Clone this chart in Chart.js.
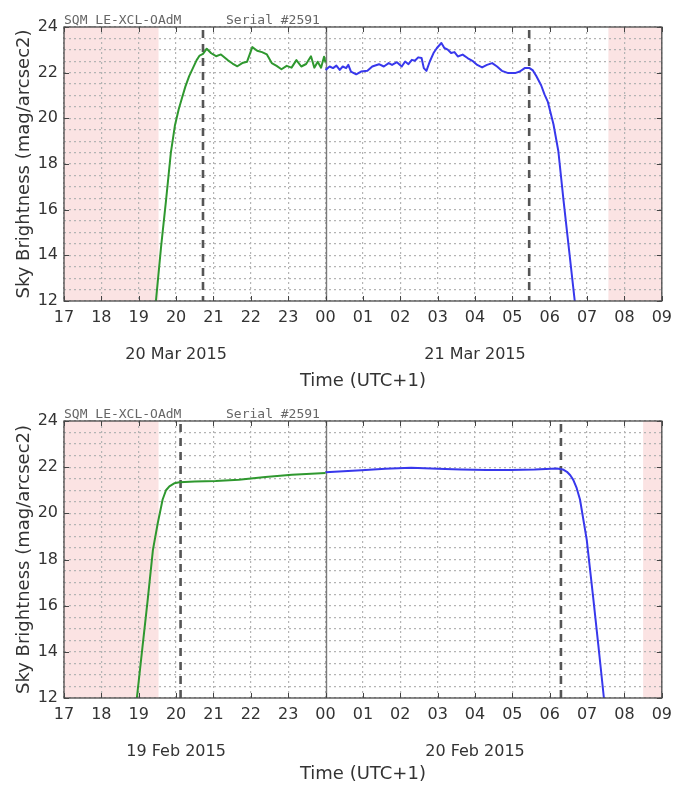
<!DOCTYPE html>
<html>
<head>
<meta charset="utf-8">
<script src="https://cdn.jsdelivr.net/npm/chart.js@4.4.1/dist/chart.umd.min.js"></script>
<style>
  html, body { margin: 0; padding: 0; background: #ffffff; }
  #wrap { width: 679px; height: 787px; position: relative; }
  canvas { display: block; }
</style>
</head>
<body>
<div id="wrap">
  <canvas id="marNight" width="679" height="394"></canvas>
  <canvas id="febNight" width="679" height="393"></canvas>
</div>
<script>
// Hours are counted from midnight of the first evening (24 = 00:00 next day)
const hourTicks = [17, 18, 19, 20, 21, 22, 23, 24, 25, 26, 27, 28, 29, 30, 31, 32, 33];
const hourLabels = ['17', '18', '19', '20', '21', '22', '23', '00', '01', '02', '03', '04', '05', '06', '07', '08', '09'];
const magTicks = [12, 14, 16, 18, 20, 22, 24];
const dateLabelHours = [20, 28];
const instrumentName = 'SQM_LE-XCL-OAdM';
const serialText = 'Serial #2591';

// 20/21 March 2015
const marDates = ['20 Mar 2015', '21 Mar 2015'];
const marEveningHours = [19.46, 19.6, 19.73, 19.86, 19.97, 20.07, 20.15, 20.25, 20.35, 20.45, 20.55, 20.63, 20.72, 20.82,
  20.94, 21.07, 21.2, 21.38, 21.51, 21.64, 21.77, 21.9, 22.04, 22.17, 22.3, 22.43, 22.56, 22.69, 22.82, 22.96,
  23.09, 23.22, 23.35, 23.48, 23.61, 23.7, 23.79, 23.88, 23.96, 24.0];
const marEveningMag = [12.0, 14.4, 16.4, 18.5, 19.7, 20.4, 20.85, 21.4, 21.85, 22.2, 22.55, 22.75, 22.82, 23.05,
  22.85, 22.72, 22.8, 22.55, 22.4, 22.28, 22.42, 22.48, 23.12, 22.96, 22.9, 22.8, 22.42, 22.3, 22.15, 22.3,
  22.22, 22.55, 22.27, 22.38, 22.72, 22.22, 22.48, 22.22, 22.7, 22.45];
const marMorningHours = [24.0, 24.11, 24.2, 24.29, 24.38, 24.46, 24.55, 24.61, 24.68, 24.82, 24.95, 25.12, 25.25,
  25.43, 25.56, 25.69, 25.78, 25.91, 26.04, 26.13, 26.22, 26.31, 26.39, 26.48, 26.57, 26.63, 26.7, 26.79, 26.89,
  26.98, 27.1, 27.18, 27.27, 27.36, 27.45, 27.54, 27.67, 27.8, 27.93, 28.06, 28.19, 28.32, 28.46, 28.59, 28.72,
  28.89, 29.07, 29.2, 29.33, 29.46, 29.55, 29.64, 29.77, 29.86, 29.95, 30.1, 30.23, 30.37, 30.52, 30.67];
const marMorningMag = [22.12, 22.27, 22.2, 22.31, 22.12, 22.27, 22.2, 22.34, 22.05, 21.93, 22.05, 22.08, 22.27,
  22.37, 22.27, 22.42, 22.34, 22.46, 22.27, 22.49, 22.37, 22.56, 22.52, 22.67, 22.64, 22.2, 22.08, 22.49, 22.86,
  23.08, 23.3, 23.08, 23.01, 22.86, 22.9, 22.71, 22.79, 22.64, 22.52, 22.34, 22.23, 22.34, 22.42, 22.27, 22.08,
  21.98, 21.98, 22.05, 22.2, 22.2, 22.1, 21.85, 21.45, 21.05, 20.72, 19.74, 18.57, 16.4, 14.2, 12.0];
const marDaylight = [[17, 19.53], [31.57, 33]];
const marTwilight = [20.72, 29.45];

// 19/20 February 2015
const febDates = ['19 Feb 2015', '20 Feb 2015'];
const febEveningHours = [18.95, 19.1, 19.24, 19.38, 19.51, 19.64, 19.73, 19.82, 19.95, 20.09, 20.5, 21.06, 21.68,
  22.39, 23.1, 24.0];
const febEveningMag = [12.0, 14.2, 16.25, 18.42, 19.58, 20.6, 21.0, 21.17, 21.3, 21.35, 21.38, 21.4, 21.45,
  21.57, 21.67, 21.75];
const febMorningHours = [24.0, 24.96, 25.6, 26.29, 27.0, 27.62, 28.3, 28.95, 29.6, 30.19, 30.35, 30.46, 30.55,
  30.63, 30.72, 30.81, 30.99, 31.17, 31.3, 31.45];
const febMorningMag = [21.78, 21.87, 21.93, 21.97, 21.93, 21.9, 21.88, 21.88, 21.9, 21.94, 21.9, 21.8, 21.65,
  21.45, 21.1, 20.6, 18.86, 16.25, 14.3, 12.0];
const febDaylight = [[17, 19.53], [32.5, 33]];
const febTwilight = [20.12, 30.3];

const GREEN = '#2f982f';
const BLUE = '#3838ec';
const TEXT = '#333333';

function toPoints(xs, ys) {
  return xs.map((x, i) => ({ x: x, y: ys[i] }));
}

// Background bands, twilight markers, frame, header and date captions
const nightPlugin = {
  id: 'nightDecor',
  beforeDraw(chart, args, opts) {
    const { ctx, chartArea: a, scales: { x } } = chart;
    ctx.save();
    ctx.fillStyle = '#fbe3e3';
    opts.daylight.forEach(([h0, h1]) => {
      const x0 = x.getPixelForValue(h0), x1 = x.getPixelForValue(h1);
      ctx.fillRect(x0, a.top, x1 - x0, a.bottom - a.top);
    });
    ctx.restore();
  },
  beforeDatasetsDraw(chart, args, opts) {
    const { ctx, chartArea: a, scales: { x } } = chart;
    ctx.save();
    // midnight separator
    const xm = Math.round(x.getPixelForValue(24)) + 0.5;
    ctx.strokeStyle = '#7a7a7a';
    ctx.lineWidth = 1.4;
    ctx.beginPath(); ctx.moveTo(xm, a.top); ctx.lineTo(xm, a.bottom); ctx.stroke();
    // twilight markers
    ctx.strokeStyle = '#555555';
    ctx.lineWidth = 2.6;
    ctx.setLineDash([8, 6]);
    opts.twilight.forEach(h => {
      const xp = x.getPixelForValue(h);
      ctx.beginPath(); ctx.moveTo(xp, a.top + 3); ctx.lineTo(xp, a.bottom); ctx.stroke();
    });
    ctx.restore();
  },
  afterDraw(chart, args, opts) {
    const { ctx, chartArea: a, scales: { x, y } } = chart;
    ctx.save();
    // inward tick marks
    ctx.strokeStyle = '#444444';
    ctx.lineWidth = 1;
    hourTicks.forEach(h => {
      const xp = Math.round(x.getPixelForValue(h)) + 0.5;
      ctx.beginPath();
      ctx.moveTo(xp, a.top); ctx.lineTo(xp, a.top + 5);
      ctx.moveTo(xp, a.bottom); ctx.lineTo(xp, a.bottom - 5);
      ctx.stroke();
    });
    magTicks.forEach(m => {
      const yp = Math.round(y.getPixelForValue(m)) + 0.5;
      ctx.beginPath();
      ctx.moveTo(a.left, yp); ctx.lineTo(a.left + 5, yp);
      ctx.moveTo(a.right, yp); ctx.lineTo(a.right - 5, yp);
      ctx.stroke();
    });
    // frame
    ctx.strokeStyle = '#4a4a4a';
    ctx.lineWidth = 1.3;
    ctx.strokeRect(a.left, a.top, a.right - a.left, a.bottom - a.top);
    // instrument header
    ctx.fillStyle = '#666666';
    ctx.font = '13px "DejaVu Sans Mono"';
    ctx.textBaseline = 'alphabetic';
    ctx.textAlign = 'left';
    ctx.fillText(instrumentName, a.left, a.top - 3);
    ctx.fillText(serialText, a.left + 162, a.top - 3);
    // date captions
    ctx.fillStyle = TEXT;
    ctx.font = '16px "DejaVu Sans"';
    ctx.textAlign = 'center';
    ctx.textBaseline = 'middle';
    opts.dates.forEach((d, i) => {
      ctx.fillText(d, x.getPixelForValue(dateLabelHours[i]), a.bottom + 54);
    });
    ctx.restore();
  }
};

function buildChart(id, evH, evM, moH, moM, daylight, twilight, dates, axisHeight) {
  const ctx = document.getElementById(id).getContext('2d');
  return new Chart(ctx, {
    type: 'line',
    data: {
      datasets: [
        { data: toPoints(evH, evM), borderColor: GREEN, borderWidth: 2, pointRadius: 0,
          tension: 0, borderJoinStyle: 'round', fill: false },
        { data: toPoints(moH, moM), borderColor: BLUE, borderWidth: 2, pointRadius: 0,
          tension: 0, borderJoinStyle: 'round', fill: false }
      ]
    },
    options: {
      responsive: false,
      animation: false,
      devicePixelRatio: 1,
      layout: { padding: { top: 27, right: 13, left: 0, bottom: 0 } },
      plugins: {
        legend: { display: false },
        tooltip: { enabled: false },
        nightDecor: { daylight: daylight, twilight: twilight, dates: dates }
      },
      scales: {
        x: {
          type: 'linear',
          min: hourTicks[0],
          max: hourTicks[hourTicks.length - 1],
          afterBuildTicks: s => { s.ticks = hourTicks.map(v => ({ value: v })); },
          afterFit: s => { s.height = axisHeight; },
          ticks: {
            autoSkip: false,
            maxRotation: 0,
            padding: 7,
            color: TEXT,
            font: { family: 'DejaVu Sans', size: 16 },
            callback: (v) => hourLabels[hourTicks.indexOf(v)]
          },
          grid: { color: '#b4b4b4', lineWidth: 1.2, drawTicks: false },
          border: { display: false, dash: [2, 3] },
          title: {
            display: true,
            text: 'Time (UTC+1)',
            color: TEXT,
            font: { family: 'DejaVu Sans', size: 18 },
            padding: { top: 0, bottom: 2 }
          }
        },
        y: {
          min: 12,
          max: 24,
          afterFit: s => { s.width = 64; },
          ticks: {
            stepSize: 0.5,
            autoSkip: false,
            padding: 6,
            color: TEXT,
            font: { family: 'DejaVu Sans', size: 16 },
            callback: v => (magTicks.includes(v) ? String(v) : '')
          },
          grid: { color: '#b4b4b4', lineWidth: 1.2, drawTicks: false },
          border: { display: false, dash: [2, 3] },
          title: {
            display: true,
            text: 'Sky Brightness (mag/arcsec2)',
            color: TEXT,
            font: { family: 'DejaVu Sans', size: 18 },
            padding: { top: 14, bottom: 0 }
          }
        }
      }
    },
    plugins: [nightPlugin]
  });
}

buildChart('marNight', marEveningHours, marEveningMag, marMorningHours, marMorningMag,
  marDaylight, marTwilight, marDates, 93);
buildChart('febNight', febEveningHours, febEveningMag, febMorningHours, febMorningMag,
  febDaylight, febTwilight, febDates, 89);
</script>
</body>
</html>
